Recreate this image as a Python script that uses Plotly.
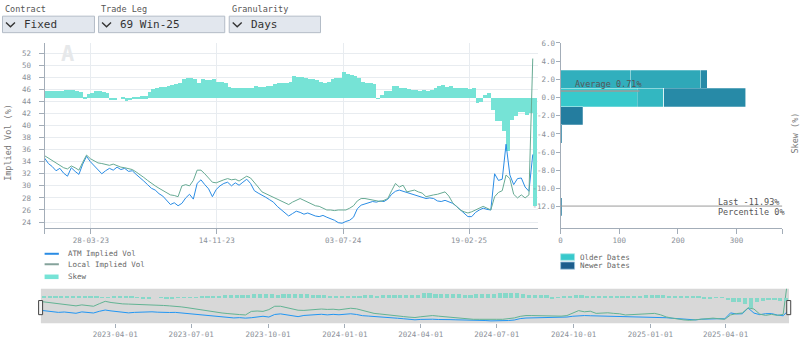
import pandas as pd
import plotly.graph_objects as go

W, H = 800, 346
FONT = "DejaVu Sans Mono"


def px(x):
    return x / W


def py(y):
    return 1 - y / H


# ---------------- data ----------------
dates = pd.date_range("2023-01-02", periods=129, freq="7D").strftime("%Y-%m-%d").tolist()

atm_vol = [
    34.6, 33.7, 33.2, 32.5, 32.9, 32.1, 31.6, 33.0, 32.4, 31.9, 33.6, 34.9, 34.0, 33.3, 32.6, 32.0,
    32.5, 32.9, 32.6, 33.1, 32.7, 32.9, 32.4, 32.5, 31.9, 31.4, 30.8, 30.2, 29.6, 29.3, 28.7, 28.3,
    27.6, 26.9, 27.2, 26.7, 27.1, 28.0, 28.6, 27.8, 30.4, 31.0, 30.2, 29.5, 28.2, 29.4, 30.0, 30.4,
    30.6, 30.0, 30.5, 30.1, 30.6, 31.1, 30.4, 29.2, 28.8, 28.5, 28.1, 27.7, 27.3, 26.6, 26.1, 25.6,
    25.0, 25.4, 25.8, 25.6, 25.3, 25.5, 25.2, 25.0, 24.9, 25.1, 24.8, 24.6, 24.3, 23.9, 23.8, 24.1,
    24.3, 24.8, 26.2, 26.8, 27.0, 27.2, 27.4, 27.3, 27.5, 27.4, 27.8, 28.6, 29.1, 29.3, 29.1, 29.0,
    28.8, 28.6, 28.3, 28.1, 27.9, 28.0, 27.9, 27.5, 27.4, 27.6, 27.4, 27.1, 26.6, 26.0, 25.5, 24.9,
    24.9, 25.6, 26.0, 26.3, 26.1, 26.0, 32.0, 30.9, 31.1, 36.9, 31.8, 30.2, 31.2, 31.3, 29.8, 29.1,
    35.2,
]

local_vol = [
    35.0, 34.6, 34.2, 33.8, 33.4, 33.0, 32.8, 33.3, 33.0, 32.6, 33.9, 35.1, 34.5, 34.1, 33.8, 33.7,
    33.6, 33.4, 33.6, 33.3, 33.1, 33.0, 32.8, 32.7, 32.3, 31.9, 31.4, 30.9, 30.4, 30.0, 29.6, 29.2,
    28.9, 28.5, 28.4, 28.2, 30.0, 30.2, 30.0, 30.9, 32.6, 32.6, 32.0, 31.3, 30.6, 30.5, 30.8, 31.0,
    31.2, 31.0, 31.1, 30.8, 31.2, 31.6, 31.3, 30.6, 29.8, 29.0, 28.7, 28.3, 28.1, 27.8, 27.4, 27.1,
    26.9, 27.3, 27.6, 27.9, 27.6, 27.3, 26.9, 26.7, 26.6, 26.3, 26.0, 26.0, 25.9, 26.0, 26.0, 26.0,
    26.3, 26.7, 27.5, 27.9, 27.9, 27.8, 27.6, 27.5, 27.4, 27.6, 27.9, 29.2, 30.4, 29.8, 30.1, 29.0,
    29.2, 29.3, 29.0, 28.8, 28.2, 28.4, 28.5, 28.6, 28.8, 29.0, 28.3, 27.2, 26.6, 26.0, 25.7, 25.5,
    25.7, 26.0, 26.3, 26.6, 26.3, 26.0, 28.2, 28.9, 29.2, 31.8, 31.2, 28.6, 28.0, 28.5, 28.0, 28.5,
    51.1,
]

skew = [
    0.72, 0.75, 0.72, 0.70, 0.75, 0.80, 0.82, 0.78, 0.70, 0.65, 0.08, 0.35, 0.55, 0.70, 0.75, 0.62,
    0.45, -0.25, -0.20, 0.00, 0.10, -0.40, -0.30, 0.05, 0.10, 0.15, 0.15, 0.60, 0.90, 1.00, 1.15, 1.20,
    1.25, 1.35, 1.50, 1.60, 2.05, 2.10, 2.12, 2.00, 1.65, 2.00, 1.95, 1.90, 2.00, 1.75, 1.70, 1.55,
    1.20, 1.10, 1.05, 1.00, 1.05, 1.10, 1.00, 1.25, 1.20, 1.15, 1.25, 1.30, 1.45, 1.55, 1.60, 1.65,
    1.70, 2.35, 2.30, 2.25, 2.10, 2.00, 2.05, 1.90, 1.70, 1.65, 1.75, 2.05, 2.10, 2.15, 2.80, 2.60,
    2.45, 2.40, 2.20, 1.70, 1.60, 1.65, 1.50, -0.05, 0.30, 0.75, 0.70, 1.30, 1.25, 1.00, 1.05, 0.90,
    0.80, 0.85, 0.70, 0.85, 0.75, 0.85, 1.00, 1.30, 1.35, 1.20, 1.30, 1.10, 1.00, 1.00, 1.05, 0.95,
    1.00, -0.60, -0.50, 0.30, 0.45, -1.40, -2.60, -2.60, -3.70, -5.90, -2.50, -2.00, -1.60, -1.60, -1.95, -1.70,
    -11.93,
]

avg_skew = 0.71
last_percentile = 0

# skew distribution (bin centres, counts per age group, oldest -> newest)
hist_bins = [2, 0, -2, -4, -6, -8, -10, -12]
hist_age = [0.0, 0.17, 0.24, 0.31, 0.58, 0.7]
hist_counts_g0 = [0, 131, 0, 0, 0, 0, 0, 0]
hist_counts_g1 = [0, 45, 0, 0, 0, 0, 0, 0]
hist_counts_g2 = [120, 0, 0, 0, 0, 0, 0, 0]
hist_counts_g3 = [119, 0, 0, 0, 0, 0, 0, 0]
hist_counts_g4 = [11, 140, 0, 0, 0, 0, 0, 0]
hist_counts_g5 = [0, 0, 38, 2, 1, 0, 0, 2]
hist_groups = [hist_counts_g0, hist_counts_g1, hist_counts_g2,
               hist_counts_g3, hist_counts_g4, hist_counts_g5]

x_tick_dates = ["2023-01-02", "2023-03-28", "2023-11-14", "2024-07-03", "2025-02-19"]
x_tick_text = ["", "28-03-23", "14-11-23", "03-07-24", "19-02-25"]
vol_ticks = list(range(24, 53, 2))
skew_ticks = [6, 4, 2, 0, -2, -4, -6, -8, -10, -12]
count_ticks = [0, 100, 200, 300, 378]
count_tick_text = ["0", "100", "200", "300", ""]

dropdown_labels = ["Contract", "Trade Leg", "Granularity"]
dropdown_values = ["Fixed", "69 Win-25", "Days"]

# ---------------- styles ----------------
ATM_C = "#2a8ce4"
LOCAL_C = "#67aa93"
SKEW_C = "#76e3d6"
OLD_C = (56, 201, 204)
NEW_C = (27, 93, 140)
AXIS_C = "#a3adb8"
GRID_C = "#e8ecf0"
TICK_FONT = dict(family=FONT, size=7.5, color="#8a9098")
WEEK_MS = 7 * 24 * 3600 * 1000
DAY_MS = 24 * 3600 * 1000


def mix(t):
    r, g, b = (round(o + (n - o) * t) for o, n in zip(OLD_C, NEW_C))
    return f"rgb({r},{g},{b})"


fig = go.Figure()

# main: skew bars (under lines)
fig.add_trace(go.Bar(x=dates, y=skew, xaxis="x", yaxis="y", width=WEEK_MS, offset=0,
                     marker=dict(color=SKEW_C, line=dict(width=0)), name="Skew"))
fig.add_trace(go.Scatter(x=dates, y=atm_vol, xaxis="x", yaxis="y3", mode="lines",
                         line=dict(color=ATM_C, width=1), name="ATM Implied Vol"))
fig.add_trace(go.Scatter(x=dates, y=local_vol, xaxis="x", yaxis="y3", mode="lines",
                         line=dict(color=LOCAL_C, width=1), name="Local Implied Vol"))

# histogram of skew
for t, counts in zip(hist_age, hist_groups):
    fig.add_trace(go.Bar(x=counts, y=hist_bins, orientation="h", xaxis="x2", yaxis="y",
                         width=2, marker=dict(color=mix(t),
                                              line=dict(width=0.5, color="rgba(255,255,255,0.5)"))))

# overview strip
fig.add_trace(go.Scatter(x=dates, y=atm_vol, xaxis="x3", yaxis="y4", mode="lines",
                         line=dict(color="#2196f3", width=1)))
fig.add_trace(go.Scatter(x=dates, y=local_vol, xaxis="x3", yaxis="y5", mode="lines",
                         line=dict(color="#62b393", width=1)))
fig.add_trace(go.Bar(x=dates, y=skew, xaxis="x3", yaxis="y6", width=5 * DAY_MS, offset=DAY_MS,
                     marker=dict(color="#86d8c9", line=dict(width=0))))

main_dom = [py(226.7), py(39)]
strip_dom = [py(323), py(288)]

fig.update_layout(
    width=W, height=H, autosize=False,
    margin=dict(l=0, r=0, t=0, b=0),
    paper_bgcolor="white", plot_bgcolor="rgba(0,0,0,0)",
    showlegend=False, barmode="stack",
    font=dict(family=FONT, size=7.5, color="#8a9098"),
    xaxis=dict(domain=[px(42.7), px(537)], range=["2023-01-02", "2025-06-25"], anchor="y",
               tickvals=x_tick_dates, ticktext=x_tick_text, tickfont=TICK_FONT,
               showgrid=True, gridcolor=GRID_C, showline=True, linecolor=AXIS_C,
               ticks="outside", ticklen=5, tickcolor=AXIS_C, zeroline=False),
    yaxis=dict(domain=main_dom, range=[-14.35, 6.05], anchor="x2", side="left",
               tickvals=skew_ticks, ticktext=[f"{v:.1f}" for v in skew_ticks], tickfont=TICK_FONT,
               showgrid=False, showline=True, linecolor=AXIS_C, ticks="outside", ticklen=4,
               tickcolor=AXIS_C, zeroline=False, ticklabelstandoff=-1),
    yaxis3=dict(overlaying="y", anchor="x", side="left", range=[23.0, 53.75],
                tickvals=vol_ticks, tickfont=TICK_FONT, showgrid=True, gridcolor=GRID_C,
                showline=True, linecolor=AXIS_C, ticks="outside", ticklen=5, tickcolor=AXIS_C,
                zeroline=False, ticklabelstandoff=6),
    xaxis2=dict(domain=[px(560), px(782.3)], range=[0, 378], anchor="y",
                tickvals=count_ticks, ticktext=count_tick_text, tickfont=TICK_FONT,
                showgrid=False, showline=True, linecolor=AXIS_C, ticks="outside", ticklen=5,
                tickcolor=AXIS_C, zeroline=False),
    xaxis3=dict(domain=[px(39), px(789)], range=["2023-01-02", "2025-06-16"], anchor="y4",
                tickformat="%Y-%m-%d", dtick="M3", tick0="2023-01-01", tickfont=TICK_FONT,
                showgrid=False, showline=False, ticks="outside", ticklen=4, tickcolor=AXIS_C,
                zeroline=False),
    yaxis4=dict(domain=strip_dom, range=[21.5, 56.5], anchor="x3", visible=False),
    yaxis5=dict(overlaying="y4", range=[24, 41.5], anchor="x3", visible=False),
    yaxis6=dict(overlaying="y4", range=[-14.4, 5], anchor="x3", visible=False),
)

shapes = []
annotations = []


def ptext(x, y, text, size=7.5, color="#666", xanchor="left", angle=0):
    annotations.append(dict(xref="paper", yref="paper", x=px(x), y=py(y), text=text,
                            showarrow=False, xanchor=xanchor, yanchor="middle", textangle=angle,
                            font=dict(family=FONT, size=size, color=color)))


# overview background and handles
shapes.append(dict(type="rect", xref="paper", yref="paper", x0=px(39), x1=px(789),
                   y0=py(323), y1=py(288), fillcolor="#d8d8d8", line=dict(width=0), layer="below"))
for hx in (36.7, 786.7):
    shapes.append(dict(type="rect", xref="paper", yref="paper", x0=px(hx), x1=px(hx + 4),
                       y0=py(314.3), y1=py(300), fillcolor="#f4f4f4",
                       line=dict(color="#444", width=1)))

# average & last lines on the distribution
shapes.append(dict(type="line", xref="x2", yref="y", x0=0, x1=134.6, y0=avg_skew, y1=avg_skew,
                   line=dict(color="#9a9a9a", width=1.5)))
shapes.append(dict(type="line", xref="x2", yref="y", x0=0, x1=378, y0=skew[-1], y1=skew[-1],
                   line=dict(color="#9a9a9a", width=1)))
annotations.append(dict(xref="x2", yref="y", x=21, y=avg_skew, text=f"Average {avg_skew:.2f}%",
                        showarrow=False, xanchor="left", yanchor="middle", yshift=6.7,
                        font=dict(family=FONT, size=8.5, color="#555")))
annotations.append(dict(xref="x2", yref="y", x=265, y=skew[-1], text=f"Last {skew[-1]:.2f}%",
                        showarrow=False, xanchor="left", yanchor="middle", yshift=4,
                        font=dict(family=FONT, size=8.5, color="#555")))
annotations.append(dict(xref="x2", yref="y", x=265, y=skew[-1], text=f"Percentile {last_percentile}%",
                        showarrow=False, xanchor="left", yanchor="middle", yshift=-6.3,
                        font=dict(family=FONT, size=8.5, color="#555")))

# axis titles
ptext(6.5, 140, "Implied Vol (%)", size=8.5, color="#777", xanchor="center", angle=-90)
ptext(795, 131, "Skew (%)", size=8.5, color="#777", xanchor="center", angle=-90)

# faint logo mark
ptext(66, 50, "<b>A</b>", size=22, color="#e6e8ea", xanchor="center")

# main legend
shapes.append(dict(type="line", xref="paper", yref="paper", x0=px(42.7), x1=px(57),
                   y0=py(252.7), y1=py(252.7), line=dict(color=ATM_C, width=2)))
shapes.append(dict(type="line", xref="paper", yref="paper", x0=px(42.7), x1=px(57),
                   y0=py(263.3), y1=py(263.3), line=dict(color="#85a39b", width=2)))
shapes.append(dict(type="rect", xref="paper", yref="paper", x0=px(42.7), x1=px(56.7),
                   y0=py(278.3), y1=py(273.7), fillcolor=SKEW_C, line=dict(width=0)))
ptext(64, 252.7, "ATM Implied Vol")
ptext(64, 263.3, "Local Implied Vol")
ptext(64, 276, "Skew")

# distribution legend
shapes.append(dict(type="rect", xref="paper", yref="paper", x0=px(560), x1=px(574),
                   y0=py(259.3), y1=py(252.7), fillcolor=mix(0.0), line=dict(color="#a8e6e6", width=0.8)))
shapes.append(dict(type="rect", xref="paper", yref="paper", x0=px(560), x1=px(574),
                   y0=py(268.3), y1=py(261), fillcolor=mix(1.0), line=dict(color="#9cc4dc", width=0.8)))
ptext(577.7, 256, "Older Dates")
ptext(577.7, 264.7, "Newer Dates")

# dropdown controls
boxes = [(0, 92.7), (96.3, 223.3), (227.3, 319.3)]
for (x0, x1), lab, val in zip(boxes, dropdown_labels, dropdown_values):
    shapes.append(dict(type="rect", xref="paper", yref="paper", x0=px(x0 + 0.5), x1=px(x1),
                       y0=py(29), y1=py(12.3), fillcolor="#e2e7ee",
                       line=dict(color="#b3bcc7", width=1)))
    cx = x0 + 2.5
    shapes.append(dict(type="path", xref="paper", yref="paper",
                       path=f"M {px(cx + 1.5)} {py(18.8)} L {px(cx + 6)} {py(23)} L {px(cx + 10.5)} {py(18.8)}",
                       line=dict(color="#333", width=1.4)))
    ptext(x0 + 1, 5.5, lab, size=8.5, color="#555")
    ptext(x0 + 20, 20.7, val, size=11, color="#333")

fig.update_layout(shapes=shapes, annotations=annotations)

fig.write_html("out.html")
